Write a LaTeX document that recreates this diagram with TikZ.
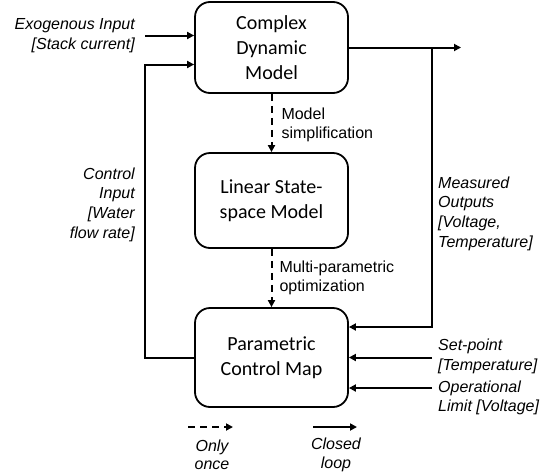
\documentclass[tikz,border=0pt]{standalone}
\usepackage{fontspec}
\setmainfont{Liberation Sans}
\newfontfamily\boxfont{Carlito}
\usetikzlibrary{arrows.meta}
\begin{document}
\begin{tikzpicture}[x=1pt,y=-1pt,
  block/.style={draw,line width=1.8pt,rounded corners=15pt,minimum width=153pt,
    align=center,font=\boxfont\fontsize{20}{25.3}\selectfont,inner sep=0pt},
  lab/.style={font=\fontsize{16}{19.7}\selectfont,inner sep=0pt},
  ilab/.style={lab,font=\fontsize{16}{19.7}\selectfont\itshape},
  legendlab/.style={ilab,align=center,font=\fontsize{16}{18.5}\selectfont\itshape},
  flow/.style={line width=2pt,-{Triangle[length=7pt,width=7pt]}},
  once/.style={flow,dash pattern=on 7pt off 5pt}]
\useasboundingbox (0,0) rectangle (553,474);

% the three model blocks
\node[block,minimum height=91pt] (cdm) at (271.5,47.5) {Complex\\Dynamic\\Model};
\node[block,minimum height=95pt] (lss) at (271.5,200.5) {Linear State-\\space Model};
\node[block,minimum height=99pt] (pcm) at (271.5,357.5) {Parametric\\Control Map};

% offline derivation steps
\draw[once] (cdm) -- (lss)
  node[lab,midway,right=9pt,align=left,yshift=-2pt] {Model\\simplification};
\draw[once] (lss) -- (pcm)
  node[lab,midway,right=7pt,align=left] {Multi-parametric\\optimization};

% exogenous input
\coordinate (exo) at (145,35.5);
\draw[flow] (exo) -- (exo -| cdm.west);
\node[ilab,anchor=east,align=right] (exol) at (135,36) {Exogenous Input\\{}[Stack current]};

% control input loop
\coordinate (cl) at (145,357.5);
\coordinate (ct) at (145,64.5);
\draw[flow] (pcm.west) -- (cl) -- (ct) -- (ct -| cdm.west);
\node[ilab,anchor=east,align=right] (ctll) at (135,204.5) {Control\\Input\\{}[Water\\flow rate]};

% measured outputs and feedback
\coordinate (out) at (461,47.5);
\coordinate (br) at (432,47.5);
\coordinate (fb) at (432,327);
\draw[flow] (cdm.east) -- (out);
\draw[flow] (br) -- (fb) -- (fb -| pcm.east);
\node[ilab,anchor=west,align=left] (mol) at (438,213.5) {Measured\\Outputs\\{}[Voltage,\\Temperature]};

% set-point and operational limit
\coordinate (sp) at (432,357.5);
\coordinate (ol) at (432,388);
\draw[flow] (sp) -- (sp -| pcm.east);
\draw[flow] (ol) -- (ol -| pcm.east);
\node[ilab,anchor=west,align=left] (spl) at (438,356.5) {Set-point\\{}[Temperature]};
\node[ilab,anchor=west,align=left] (oll) at (438,398) {Operational\\Limit [Voltage]};

% legend
\coordinate (la) at (188,427);
\coordinate (lb) at (233,427);
\coordinate (lc) at (313,427);
\coordinate (ld) at (357,427);
\draw[once] (la) -- (lb);
\draw[flow] (lc) -- (ld);
\node[legendlab] (lo) at (212,455) {Only\\once};
\node[legendlab] (lcl) at (336,455) {Closed\\loop};
\end{tikzpicture}
\end{document}
